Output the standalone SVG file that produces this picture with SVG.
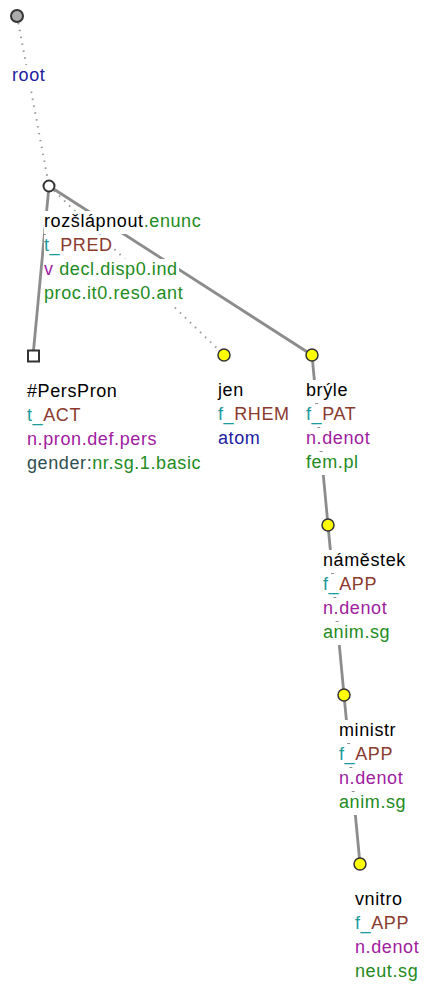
<svg xmlns="http://www.w3.org/2000/svg" width="424" height="987" viewBox="0 0 424 987">
<style>
text{font-family:"Liberation Sans",Arial,sans-serif;font-size:18px;letter-spacing:0.6px}
.bg{fill:#fff}
.k{fill:#000}.g{fill:#228b22}.t{fill:#1a9a9a}.b{fill:#8b3a2e}.p{fill:#a020a0}.n{fill:#2020a0}.s{fill:#2f4f4f}
.e{stroke:#8c8c8c;stroke-width:2.8;fill:none}
.d{stroke:#9a9a9a;stroke-width:2;stroke-dasharray:1.5 5.5;fill:none}
.y{fill:#ffff00;stroke:#333;stroke-width:1.5}
</style>
<rect width="424" height="987" fill="#fff"/>
<g id="connectors">
<line class="d" x1="17" y1="16" x2="49" y2="186"/>
<line class="e" x1="49" y1="186" x2="33" y2="356"/>
<line class="d" x1="49" y1="186" x2="224" y2="355"/>
<line class="e" x1="49" y1="186" x2="312" y2="355"/>
<line class="e" x1="312" y1="355" x2="328" y2="525"/>
<line class="e" x1="328" y1="525" x2="344" y2="695"/>
<line class="e" x1="344" y1="695" x2="360" y2="864"/>
</g>
<g id="root">
<circle cx="17" cy="16" r="6" fill="#aaa" stroke="#333" stroke-width="2"/>
<rect class="bg" x="12" y="65" width="34" height="23"/>
<text x="12" y="81" class="n">root</text>
</g>
<g id="rozslapnout">
<circle cx="49" cy="186" r="5.5" fill="#fff" stroke="#333" stroke-width="2"/>
<rect class="bg" x="44" y="211" width="158" height="23"/>
<rect class="bg" x="44" y="235" width="70" height="23"/>
<rect class="bg" x="44" y="259" width="135" height="23"/>
<rect class="bg" x="44" y="283" width="140" height="23"/>
<text x="44" y="227"><tspan class="k">rozšlápnout</tspan><tspan class="g">.enunc</tspan></text>
<text x="44" y="251"><tspan class="t">t_</tspan><tspan class="b">PRED</tspan></text>
<text x="44" y="275"><tspan class="p">v</tspan><tspan class="g"> decl.disp0.ind</tspan></text>
<text x="44" y="299" class="g">proc.it0.res0.ant</text>
</g>
<g id="perspron">
<rect x="28" y="350.5" width="11" height="11" fill="#fff" stroke="#333" stroke-width="2"/>
<rect class="bg" x="27" y="381" width="91" height="23"/>
<rect class="bg" x="27" y="405" width="55" height="23"/>
<rect class="bg" x="27" y="429" width="131" height="23"/>
<rect class="bg" x="27" y="453" width="176" height="23"/>
<text x="27" y="397" class="k">#PersPron</text>
<text x="27" y="421"><tspan class="t">t_</tspan><tspan class="b">ACT</tspan></text>
<text x="27" y="445" class="p">n.pron.def.pers</text>
<text x="27" y="469"><tspan class="s">gender:</tspan><tspan class="g">nr.sg.1.basic</tspan></text>
</g>
<g id="jen">
<circle class="y" cx="224" cy="355" r="6"/>
<rect class="bg" x="218" y="380" width="27" height="23"/>
<rect class="bg" x="218" y="404" width="72" height="23"/>
<rect class="bg" x="218" y="428" width="43" height="23"/>
<text x="218" y="396" class="k">jen</text>
<text x="218" y="420"><tspan class="t">f_</tspan><tspan class="b">RHEM</tspan></text>
<text x="218" y="444" class="n">atom</text>
</g>
<g id="bryle">
<circle class="y" cx="312" cy="355" r="6"/>
<rect class="bg" x="306" y="380" width="43" height="23"/>
<rect class="bg" x="306" y="404" width="54" height="23"/>
<rect class="bg" x="306" y="428" width="65" height="23"/>
<rect class="bg" x="306" y="452" width="53" height="23"/>
<text x="306" y="396" class="k">brýle</text>
<text x="306" y="420"><tspan class="t">f_</tspan><tspan class="b">PAT</tspan></text>
<text x="306" y="444" class="p">n.denot</text>
<text x="306" y="468" class="g">fem.pl</text>
</g>
<g id="namestek">
<circle class="y" cx="328" cy="525" r="6"/>
<rect class="bg" x="323" y="550" width="84" height="23"/>
<rect class="bg" x="323" y="574" width="55" height="23"/>
<rect class="bg" x="323" y="598" width="65" height="23"/>
<rect class="bg" x="323" y="622" width="68" height="23"/>
<text x="323" y="566" class="k">náměstek</text>
<text x="323" y="590"><tspan class="t">f_</tspan><tspan class="b">APP</tspan></text>
<text x="323" y="614" class="p">n.denot</text>
<text x="323" y="638" class="g">anim.sg</text>
</g>
<g id="ministr">
<circle class="y" cx="344" cy="695" r="6"/>
<rect class="bg" x="339" y="720" width="58" height="23"/>
<rect class="bg" x="339" y="744" width="55" height="23"/>
<rect class="bg" x="339" y="768" width="65" height="23"/>
<rect class="bg" x="339" y="792" width="68" height="23"/>
<text x="339" y="736" class="k">ministr</text>
<text x="339" y="760"><tspan class="t">f_</tspan><tspan class="b">APP</tspan></text>
<text x="339" y="784" class="p">n.denot</text>
<text x="339" y="808" class="g">anim.sg</text>
</g>
<g id="vnitro">
<circle class="y" cx="360" cy="864" r="6"/>
<rect class="bg" x="355" y="889" width="48" height="23"/>
<rect class="bg" x="355" y="913" width="55" height="23"/>
<rect class="bg" x="355" y="937" width="65" height="23"/>
<rect class="bg" x="355" y="961" width="64" height="23"/>
<text x="355" y="905" class="k">vnitro</text>
<text x="355" y="929"><tspan class="t">f_</tspan><tspan class="b">APP</tspan></text>
<text x="355" y="953" class="p">n.denot</text>
<text x="355" y="977" class="g">neut.sg</text>
</g>
</svg>
